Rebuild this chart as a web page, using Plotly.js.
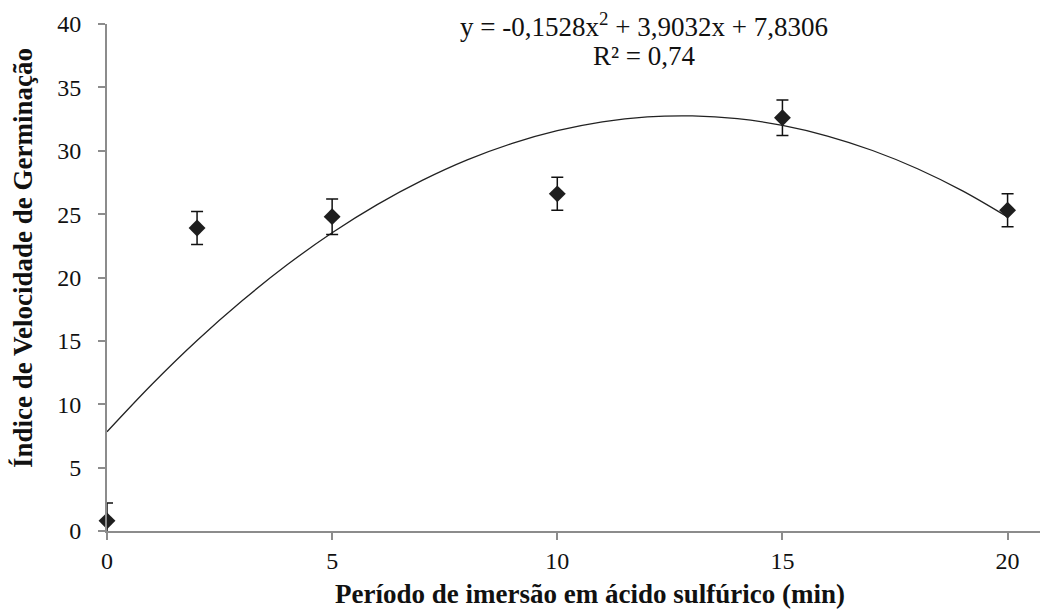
<!DOCTYPE html>
<html>
<head>
<meta charset="utf-8">
<script src="https://cdn.plot.ly/plotly-3.0.1.min.js"></script>
<style>html,body{margin:0;padding:0;background:#fff;}#chart{width:1040px;height:612px;}</style>
</head>
<body>
<div id="chart"></div>
<script>
// Observed means
const periodo = [0, 2, 5, 10, 15, 20];
const ivg = [0.8, 23.9, 24.8, 26.6, 32.6, 25.3];
const erro = [1.4, 1.3, 1.4, 1.3, 1.4, 1.3];

// Fitted quadratic trend line
const curvaX = [0,1,2,3,4,5,6,7,8,9,10,11,12,13,14,15,16,17,18,19,20];
const curvaY = [7.83,11.58,15.03,18.16,21.0,23.53,25.75,27.66,29.28,30.58,31.58,32.28,32.67,32.75,32.53,32.0,31.16,30.02,28.58,26.83,24.77];

const xTicks = [0, 5, 10, 15, 20];
const yTicks = [0, 5, 10, 15, 20, 25, 30, 35, 40];

const xTitle = '<b>Período de imersão em ácido sulfúrico (min)</b>';
const yTitle = '<b>Índice de Velocidade de Germinação</b>';
const eqText = 'y = -0,1528x<sup>2</sup> + 3,9032x + 7,8306';
const r2Text = 'R² = 0,74';

const serif = "Liberation Serif, Times New Roman, serif";

const W = 1040, H = 612, ML = 107, MR = 0, MT = 24, MB = 81;
const PW = W - ML - MR, PH = H - MT - MB;
const px = v => (v - ML) / PW;
const py = v => (H - MB - v) / PH;

const traces = [
  {
    x: curvaX, y: curvaY, mode: 'lines', type: 'scatter',
    line: {color: '#222', width: 1.3, shape: 'spline'},
    hoverinfo: 'skip', showlegend: false
  },
  {
    x: periodo, y: ivg, mode: 'none', type: 'scatter',
    error_y: {type: 'data', array: erro, visible: true, color: '#111', thickness: 1.5, width: 6},
    cliponaxis: true, showlegend: false
  },
  {
    x: periodo, y: ivg, mode: 'markers', type: 'scatter',
    marker: {symbol: 'diamond', size: 13, color: '#1e1e1e'},
    cliponaxis: false, showlegend: false
  }
];

const layout = {
  width: W, height: H,
  margin: {l: ML, r: MR, t: MT, b: MB},
  paper_bgcolor: '#fff', plot_bgcolor: '#fff',
  font: {family: serif, color: '#111', size: 24},
  xaxis: {
    range: [0, 20.72], tickvals: xTicks, ticktext: xTicks.map(String),
    showgrid: false, zeroline: false, showline: true, linecolor: '#8c8c8c', linewidth: 2,
    ticks: 'outside', ticklen: 7, tickwidth: 2, tickcolor: '#8c8c8c',
    tickfont: {family: serif, size: 24, color: '#111'},
    ticklabelstandoff: 0,
    automargin: false
  },
  yaxis: {
    range: [0, 40], tickvals: yTicks, ticktext: yTicks.map(String),
    showgrid: false, zeroline: false, showline: true, linecolor: '#8c8c8c', linewidth: 2,
    ticks: 'outside', ticklen: 7, tickwidth: 2, tickcolor: '#8c8c8c',
    tickfont: {family: serif, size: 24, color: '#111'},
    ticklabelstandoff: 12,
    automargin: false
  },
  annotations: [
    {xref: 'paper', yref: 'paper', x: px(644), y: py(25), yanchor: 'middle', xanchor: 'center', showarrow: false,
     text: eqText, font: {family: serif, size: 27, color: '#111'}},
    {xref: 'paper', yref: 'paper', x: px(644), y: py(56), yanchor: 'middle', xanchor: 'center', showarrow: false,
     text: r2Text, font: {family: serif, size: 27, color: '#111'}},
    {xref: 'paper', yref: 'paper', x: px(590), y: py(594), yanchor: 'middle', xanchor: 'center', showarrow: false,
     text: xTitle, font: {family: serif, size: 27, color: '#111'}},
    {xref: 'paper', yref: 'paper', x: px(23), y: py(258), yanchor: 'middle', xanchor: 'center', showarrow: false,
     textangle: -90, text: yTitle, font: {family: serif, size: 27, color: '#111'}}
  ],
  showlegend: false
};

Plotly.newPlot('chart', traces, layout, {displayModeBar: false, staticPlot: true});
</script>
</body>
</html>
